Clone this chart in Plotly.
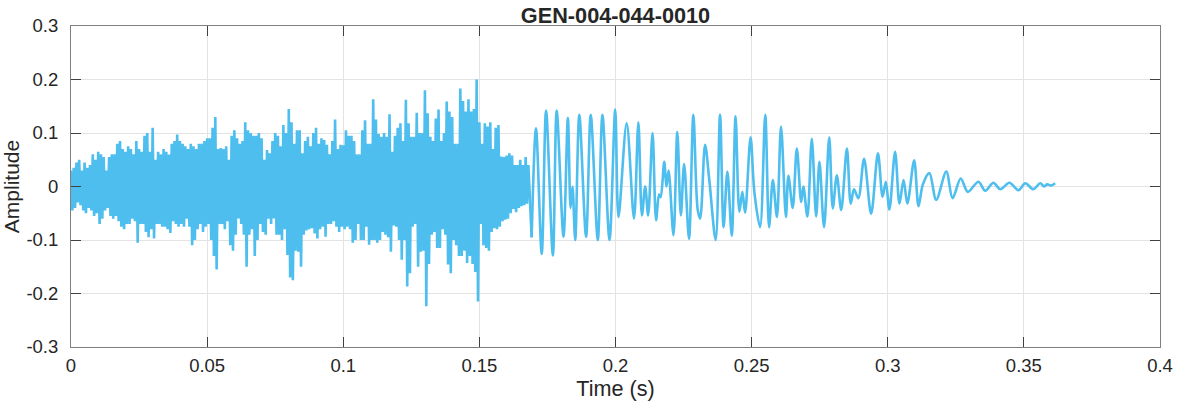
import plotly.graph_objects as go

# ---- dense segment: envelope read every 1 ms from 0 to 0.168 s ----
dense_step = 0.001
dense_upper = [
    0.03, 0.035, 0.045, 0.05, 0.03, 0.045, 0.035, 0.04, 0.06, 0.05,
    0.065, 0.06, 0.055, 0.03, 0.055, 0.06, 0.06, 0.08, 0.085, 0.07,
    0.065, 0.075, 0.07, 0.06, 0.085, 0.07, 0.065, 0.095, 0.1, 0.065,
    0.11, 0.05, 0.065, 0.06, 0.07, 0.065, 0.06, 0.08, 0.085, 0.097,
    0.085, 0.08, 0.075, 0.07, 0.08, 0.075, 0.07, 0.08, 0.08, 0.085,
    0.09, 0.09, 0.11, 0.13, 0.07, 0.072, 0.07, 0.075, 0.05, 0.095,
    0.105, 0.09, 0.08, 0.085, 0.12, 0.105, 0.1, 0.095, 0.095, 0.1,
    0.09, 0.05, 0.068, 0.062, 0.085, 0.1, 0.095, 0.075, 0.115, 0.1,
    0.145, 0.12, 0.08, 0.105, 0.105, 0.062, 0.085, 0.093, 0.075, 0.1,
    0.11, 0.08, 0.09, 0.087, 0.078, 0.06, 0.085, 0.125, 0.07, 0.078,
    0.077, 0.105, 0.095, 0.095, 0.085, 0.06, 0.06, 0.105, 0.124, 0.08,
    0.08, 0.163, 0.125, 0.098, 0.093, 0.1, 0.093, 0.135, 0.065, 0.095,
    0.11, 0.118, 0.085, 0.162, 0.118, 0.093, 0.093, 0.138, 0.1, 0.1,
    0.18, 0.137, 0.093, 0.085, 0.127, 0.144, 0.085, 0.1, 0.159, 0.14,
    0.13, 0.08, 0.08, 0.183, 0.16, 0.14, 0.163, 0.14, 0.145, 0.2,
    0.12, 0.08, 0.118, 0.112, 0.12, 0.07, 0.11, 0.115, 0.056, 0.055,
    0.058, 0.062, 0.058, 0.04, 0.04, 0.05, 0.04, 0.055, 0.04,
]
dense_lower = [
    -0.045, -0.04, -0.03, -0.035, -0.045, -0.05, -0.04, -0.045, -0.055, -0.05,
    -0.07, -0.06, -0.045, -0.04, -0.055, -0.06, -0.055, -0.065, -0.075, -0.08,
    -0.07, -0.07, -0.06, -0.065, -0.105, -0.07, -0.07, -0.085, -0.095, -0.08,
    -0.097, -0.07, -0.07, -0.075, -0.075, -0.08, -0.087, -0.065, -0.07, -0.075,
    -0.07, -0.075, -0.06, -0.075, -0.11, -0.1, -0.08, -0.07, -0.085, -0.075,
    -0.07, -0.1, -0.13, -0.155, -0.07, -0.07, -0.08, -0.065, -0.11, -0.12,
    -0.09, -0.06, -0.07, -0.09, -0.15, -0.09, -0.08, -0.13, -0.1, -0.07,
    -0.085, -0.09, -0.06, -0.07, -0.06, -0.09, -0.09, -0.1, -0.08, -0.128,
    -0.17, -0.175, -0.12, -0.122, -0.15, -0.09, -0.082, -0.08, -0.078, -0.088,
    -0.097, -0.08, -0.075, -0.094, -0.07, -0.07, -0.065, -0.075, -0.085, -0.075,
    -0.08, -0.075, -0.08, -0.105, -0.1, -0.07, -0.1, -0.1, -0.075, -0.109,
    -0.1, -0.1, -0.105, -0.1, -0.085, -0.09, -0.095, -0.122, -0.073, -0.075,
    -0.1, -0.137, -0.1, -0.187, -0.162, -0.075, -0.07, -0.15, -0.122, -0.12,
    -0.224, -0.145, -0.09, -0.085, -0.115, -0.115, -0.08, -0.09, -0.146, -0.162,
    -0.1, -0.11, -0.13, -0.13, -0.12, -0.143, -0.13, -0.145, -0.16, -0.215,
    -0.07, -0.11, -0.115, -0.12, -0.085, -0.078, -0.08, -0.075, -0.065, -0.062,
    -0.06, -0.05, -0.042, -0.048, -0.04, -0.037, -0.035, -0.032, -0.03,
]

# ---- oscillating tail: extrema (time, amplitude) ----
tail_t = [
    0.1692, 0.1708, 0.1729, 0.1745, 0.1770, 0.1784, 0.1809, 0.1825, 0.1835, 0.1842,
    0.1852, 0.1867, 0.1892, 0.1909, 0.1935, 0.1952, 0.1978, 0.1999, 0.2011, 0.2041,
    0.2068, 0.2084, 0.2097, 0.2109, 0.2120, 0.2136, 0.2149, 0.2160, 0.2166, 0.2179,
    0.2187, 0.2195, 0.2213, 0.2227, 0.2240, 0.2252, 0.2270, 0.2286, 0.2302, 0.2311,
    0.2329, 0.2344, 0.2368, 0.2384, 0.2397, 0.2411, 0.2427, 0.2441, 0.2455, 0.2466,
    0.2476, 0.2496, 0.2510, 0.2531, 0.2550, 0.2564, 0.2578, 0.2593, 0.2608, 0.2626,
    0.2635, 0.2651, 0.2666, 0.2682, 0.2690, 0.2705, 0.2721, 0.2737, 0.2749, 0.2766,
    0.2785, 0.2798, 0.2813, 0.2829, 0.2850, 0.2864, 0.2876, 0.2892, 0.2913, 0.2939,
    0.2964, 0.2981, 0.2993, 0.3006, 0.3027, 0.3043, 0.3058, 0.3072, 0.3097, 0.3113,
    0.3129, 0.3153, 0.3178, 0.3215, 0.3238, 0.3268, 0.3294, 0.3333, 0.3358, 0.3388,
    0.3413, 0.3447, 0.3480, 0.3505, 0.3535, 0.3560, 0.3575, 0.3585, 0.3600, 0.3615,
]
tail_v = [
    -0.095, 0.109, -0.126, 0.142, -0.129, 0.142, -0.094, 0.128, -0.04, 0.0,
    -0.1, 0.134, -0.094, 0.134, -0.1, 0.134, -0.1, 0.144, -0.057, 0.118,
    -0.06, 0.12, -0.054, 0.0, -0.054, 0.1, -0.063, -0.015, -0.02, 0.046,
    0.0, 0.03, -0.091, 0.102, -0.054, 0.042, -0.098, 0.134, -0.044, -0.06,
    0.078, 0.015, -0.1, 0.134, -0.076, 0.028, -0.092, 0.131, -0.047, -0.01,
    -0.049, 0.092, -0.01, -0.076, 0.134, -0.076, 0.012, -0.057, 0.112, -0.057,
    0.02, -0.04, 0.071, -0.029, 0.0, -0.056, 0.089, -0.056, 0.046, -0.076,
    0.092, -0.041, 0.021, -0.044, 0.071, -0.032, -0.005, -0.022, 0.052, -0.051,
    0.062, -0.019, 0.009, -0.043, 0.065, -0.032, 0.012, -0.032, 0.049, -0.037,
    0.004, 0.025, -0.025, 0.028, -0.022, 0.015, -0.01, 0.009, -0.008, 0.007,
    -0.005, 0.007, -0.007, 0.006, -0.005, 0.006, 0.0, 0.004, 0.002, 0.006,
]

x_tickvals = [0, 0.05, 0.1, 0.15, 0.2, 0.25, 0.3, 0.35, 0.4]
x_ticktext = ["0", "0.05", "0.1", "0.15", "0.2", "0.25", "0.3", "0.35", "0.4"]
y_tickvals = [-0.3, -0.2, -0.1, 0, 0.1, 0.2, 0.3]
y_ticktext = ["-0.3", "-0.2", "-0.1", "0", "0.1", "0.2", "0.3"]

line_color = "#4DBEEE"

dense_t, dense_v = [], []
for k, (u, l) in enumerate(zip(dense_upper, dense_lower)):
    dense_t += [k * dense_step, k * dense_step + dense_step / 2]
    dense_v += [u, l]

fig = go.Figure()
fig.add_trace(go.Scatter(x=dense_t + [tail_t[0]], y=dense_v + [tail_v[0]], mode="lines",
                         line=dict(color=line_color, width=2.6), showlegend=False,
                         hoverinfo="skip"))
fig.add_trace(go.Scatter(x=tail_t, y=tail_v, mode="lines",
                         line=dict(color=line_color, width=2.6, shape="spline", smoothing=0.9),
                         showlegend=False, hoverinfo="skip"))

font = "Liberation Sans, Arial, sans-serif"
axis_common = dict(
    showline=True, linecolor="#808080", linewidth=1, mirror="ticks",
    ticks="inside", ticklen=10, tickcolor="#404040", tickwidth=1,
    showgrid=True, gridcolor="#e3e3e3", gridwidth=1, zeroline=False,
    automargin=False,
    tickfont=dict(family=font, size=18.5, color="#262626"),
)
fig.update_layout(
    width=1177, height=404,
    margin=dict(l=71, r=17, t=26, b=57),
    paper_bgcolor="white", plot_bgcolor="white",
    title=dict(text="<b>GEN-004-044-0010</b>", x=0.5, xref="paper", xanchor="center",
               y=1, yref="paper", yanchor="bottom", pad=dict(b=3),
               font=dict(family=font, size=21.7, color="#262626")),
    xaxis=dict(range=[0, 0.4], tickvals=x_tickvals, ticktext=x_ticktext,
               ticklabelstandoff=2,
               title=dict(text="Time (s)", font=dict(family=font, size=21.6, color="#262626"), standoff=1),
               **axis_common),
    yaxis=dict(range=[-0.3, 0.3], tickvals=y_tickvals, ticktext=y_ticktext,
               ticklabelstandoff=8,
               title=dict(text="Amplitude", font=dict(family=font, size=21, color="#262626"), standoff=8),
               **axis_common),
)
fig.write_html("out.html", config={"displayModeBar": False},
               post_script="document.body.style.margin='0';document.body.style.overflow='hidden';")
